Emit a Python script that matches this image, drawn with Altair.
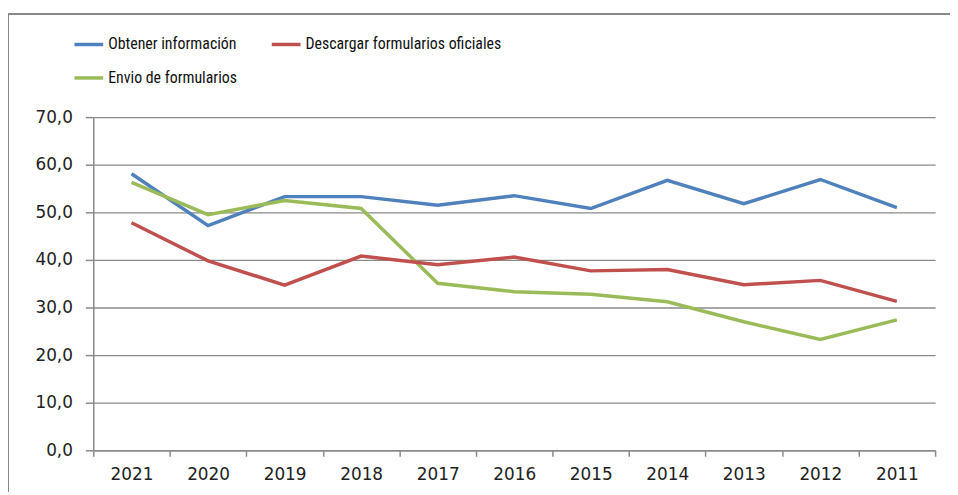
import altair as alt
import pandas as pd

years = ["2021", "2020", "2019", "2018", "2017", "2016", "2015", "2014", "2013", "2012", "2011"]
series_names = ["Obtener información", "Envio de formularios", "Descargar formularios oficiales"]
obtener = [58.1, 47.2, 53.3, 53.3, 51.5, 53.5, 50.8, 56.7, 51.8, 56.9, 51.0]
envio = [56.3, 49.5, 52.5, 50.8, 35.1, 33.3, 32.8, 31.2, 27.0, 23.3, 27.4]
descargar = [47.8, 39.8, 34.7, 40.8, 39.0, 40.6, 37.7, 38.0, 34.8, 35.7, 31.3]
colors = ["#4F81BD", "#9BBB59", "#C0504D"]

rows = []
for name, vals in zip(series_names, [obtener, envio, descargar]):
    for yr, v in zip(years, vals):
        rows.append({"year": yr, "value": v, "serie": name})
df = pd.DataFrame(rows)

axis_font = "DejaVu Sans"
legend_font = "Liberation Sans Narrow, Roboto Condensed, Open Sans, sans-serif"

lines = alt.Chart(df).mark_line(strokeWidth=3.5).encode(
    x=alt.X("year:N", sort=years, bandPosition=0.5,
            scale=alt.Scale(type="band", paddingInner=0, paddingOuter=0),
            axis=alt.Axis(title=None, labelAngle=0, tickBand="extent", tickSize=6,
                          labelPadding=10, labelFont=axis_font, labelFontSize=17,
                          labelColor="#222222", domainColor="#8a8a8a", tickColor="#8a8a8a",
                          domainWidth=1.5, tickWidth=1.5, grid=False)),
    y=alt.Y("value:Q", scale=alt.Scale(domain=[0, 70], nice=False),
            axis=alt.Axis(title=None, values=[0, 10, 20, 30, 40, 50, 60, 70],
                          labelExpr="replace(format(datum.value, '.1f'), '.', ',')",
                          tickSize=8, labelPadding=13, labelFont=axis_font, labelFontSize=17,
                          labelColor="#222222", domainColor="#8a8a8a", tickColor="#8a8a8a",
                          domainWidth=1.5, tickWidth=1.5, gridColor="#8a8a8a", gridWidth=1.3)),
    color=alt.Color("serie:N", sort=series_names,
                    scale=alt.Scale(domain=series_names, range=colors),
                    legend=alt.Legend(title=None, orient="none", legendX=-21, legendY=-90,
                                      columns=2, columnPadding=28, rowPadding=9,
                                      symbolType="stroke", symbolSize=841, symbolStrokeWidth=3.5,
                                      labelFont=legend_font, labelFontSize=16, labelFontWeight="normal",
                                      labelColor="#111111", labelOffset=3, labelLimit=400)),
)

border = alt.Chart(alt.Data(values=[{"a": 1}])).mark_rect(
    fill=None, stroke="#878787", strokeWidth=2
).encode(
    x=alt.value(-86), x2=alt.value(900), y=alt.value(-104), y2=alt.value(420)
)

chart = alt.layer(border, lines).properties(
    width=849, height=336,
    autosize=alt.AutoSizeParams(type="none"),
    padding={"left": 86, "top": 108, "right": 15, "bottom": 40},
).configure_view(stroke=None)

chart.save("out.html", embed_options={"renderer": "svg", "actions": False})
